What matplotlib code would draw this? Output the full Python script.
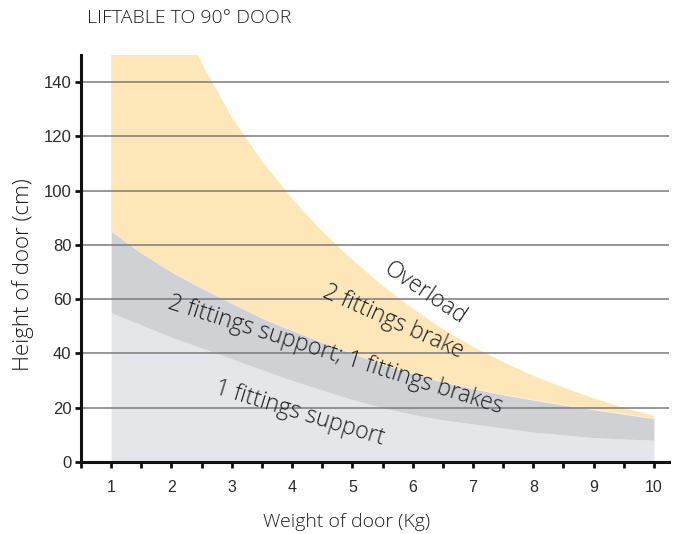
import numpy as np
import matplotlib.pyplot as plt
from matplotlib.ticker import MultipleLocator

# door weight (kg) and boundary heights (cm)
weight = [1, 1.5, 2, 2.5, 3, 3.5, 4, 4.5, 5, 5.5, 6, 6.5, 7, 7.5, 8, 8.5, 9, 9.5, 10]
one_support = [55, 50.5, 46, 42, 38, 34, 30, 26.5, 23, 20, 17.5, 15.5, 14, 12.5, 11, 10, 9, 8.5, 8]
two_support = [85, 77, 70, 64, 58.5, 53, 48.5, 44, 40, 36, 32.5, 29.5, 27, 24.8, 22.8, 21, 19.3, 17.6, 16]
two_brake = [280, 215, 175, 147, 127, 111, 97, 85, 74.5, 65, 56.5, 49, 42.5, 36.8, 31.8, 27.4, 23.5, 20, 17]

y_ticks = [0, 20, 40, 60, 80, 100, 120, 140]
x_ticks = list(range(1, 11))

c_light = '#e4e6e9'
c_dark = '#cfd1d4'
c_yellow = '#fde7b8'
txt = '#1e1e1e'
light_font = ['Open Sans', 'DejaVu Sans']

fig = plt.figure(figsize=(6.79, 5.34), dpi=100)
ax = fig.add_axes([81/679, 72/534, 588/679, 407/534])

ax.fill_between(weight, 0, one_support, color=c_light, lw=0, zorder=1)
ax.fill_between(weight, one_support, two_support, color=c_dark, lw=0, zorder=1)
ax.fill_between(weight, two_support, two_brake, color=c_yellow, lw=0, zorder=1)

ax.set_xlim(0.5, 10.25)
ax.set_ylim(0, 150)

for y in y_ticks[1:]:
    ax.axhline(y, color='#7a7a7a', lw=1.1, zorder=2)

ax.set_yticks(y_ticks)
ax.set_xticks(x_ticks)
ax.xaxis.set_minor_locator(MultipleLocator(0.5))
ax.tick_params(axis='both', which='both', direction='out', width=2, color='#111111',
               labelcolor='#2b2b2b')
ax.tick_params(axis='x', which='both', length=4, pad=9, labelsize=11.5)
ax.tick_params(axis='y', which='major', length=4, pad=3, labelsize=12)
for lab in ax.get_xticklabels() + ax.get_yticklabels():
    lab.set_family(['Liberation Sans', 'DejaVu Sans'])

for s in ['top', 'right']:
    ax.spines[s].set_visible(False)
for s in ['left', 'bottom']:
    ax.spines[s].set_linewidth(2.2)
    ax.spines[s].set_color('#111111')
    ax.spines[s].set_zorder(3)

ax.set_xlabel('Weight of door (Kg)', fontsize=14, color=txt, family=light_font,
              fontweight='light')
ax.xaxis.set_label_coords(0.452, -0.125)
ax.set_ylabel('Height of door (cm)', fontsize=16, color=txt, family=light_font,
              fontweight='light')
ax.yaxis.set_label_coords(-0.08, 0.46)

fig.text(87/679, 1 - 18/534, 'LIFTABLE TO 90° DOOR', fontsize=14, color=txt,
         family=light_font, fontweight='light', va='center', ha='left')

labels = [
    ('Overload', 6.21, 62.3, -34),
    ('2 fittings brake', 5.68, 51.8, -24),
    ('2 fittings support; 1 fittings brakes', 4.71, 39.3, -17.5),
    ('1 fittings support', 4.13, 18.0, -17),
]
for s, x, y, r in labels:
    ax.text(x, y, s, rotation=r, rotation_mode='anchor', ha='center', va='center',
            fontsize=16.5, color=txt, family=light_font, fontweight='light', zorder=4)

fig.savefig('out.png', dpi=100)
